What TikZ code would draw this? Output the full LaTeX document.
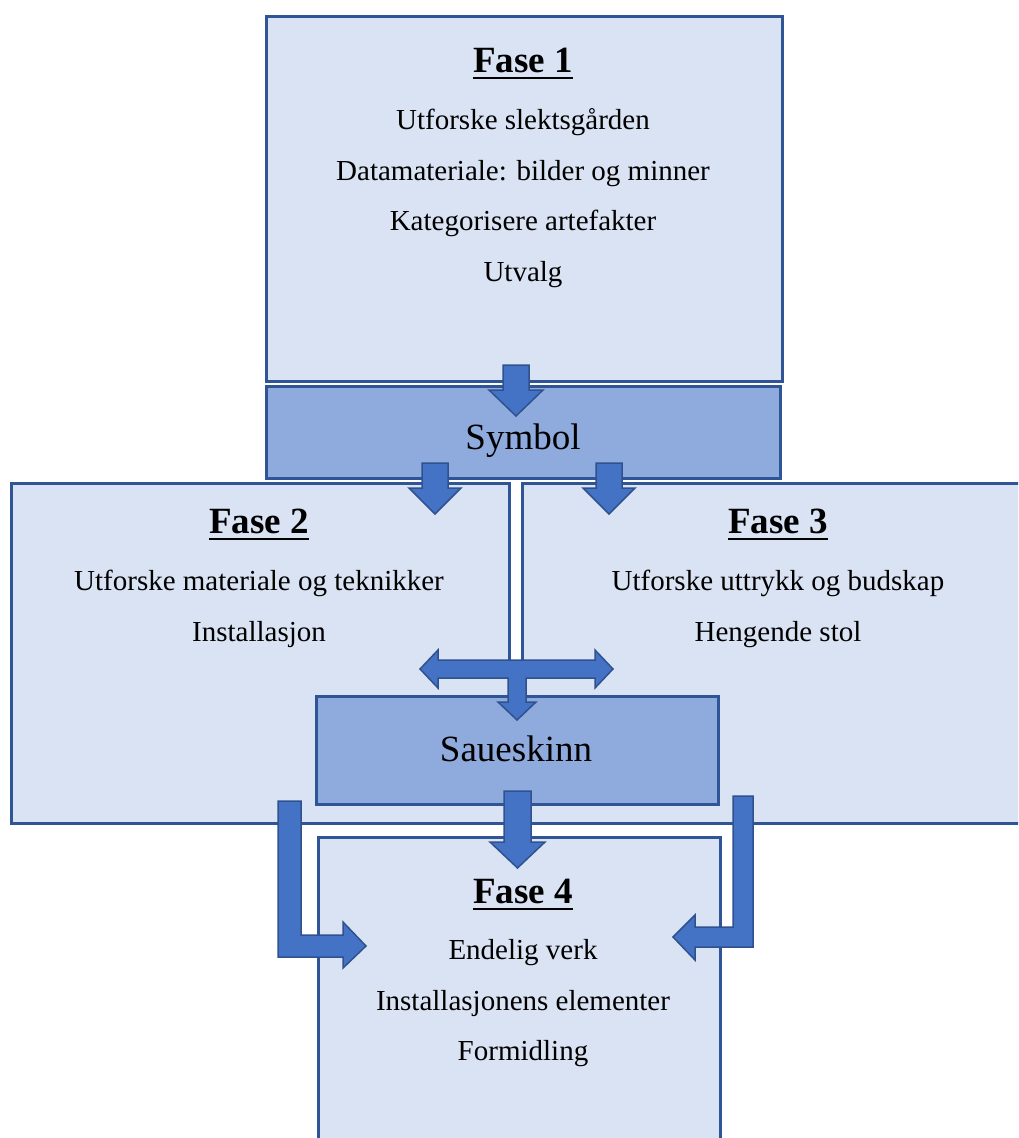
\documentclass[tikz,border=0pt]{standalone}
\usepackage{fontspec}
\setmainfont{Liberation Serif}

\definecolor{boxfill}{HTML}{DAE3F3}
\definecolor{midfill}{HTML}{8FAADC}
\definecolor{boxedge}{HTML}{2F5597}
\definecolor{arrfill}{HTML}{4472C4}
\definecolor{arredge}{HTML}{2F528F}

\tikzset{
  phase/.style={draw=boxedge, fill=boxfill, line width=2.5pt, anchor=north west, inner sep=0pt},
  keybox/.style={draw=boxedge, fill=midfill, line width=2.5pt, anchor=north west, inner sep=0pt},
  blockarrow/.style={draw=arredge, fill=arrfill, line width=1.5pt, line join=miter},
  title/.style={font=\fontsize{37}{40}\selectfont\bfseries, anchor=base, inner sep=0pt},
  item/.style={font=\fontsize{29}{32}\selectfont, anchor=base, inner sep=0pt},
  big/.style={font=\fontsize{37}{40}\selectfont, anchor=base, inner sep=0pt},
  ulbar/.style={line width=2.5pt},
}

% down block arrow: centre x, half shaft, top y, head base y, half head, tip y
\newcommand{\dnblock}[6]{%
  \draw[blockarrow] ({#1-#2},#3) -- ({#1+#2},#3) -- ({#1+#2},#4) -- ({#1+#5},#4)
    -- (#1,#6) -- ({#1-#5},#4) -- ({#1-#2},#4) -- cycle;
}
% underline under a title node
\newcommand{\ulnode}[1]{%
  \draw[ulbar] ([yshift=-6pt]#1.base west) -- ([yshift=-6pt]#1.base east);
}

\begin{document}
\begin{tikzpicture}[x=1pt, y=-1pt]
  \clip (0,0) rectangle (1018,1138);

  % boxes
  \node[phase, minimum width=516pt, minimum height=365pt] (fase1) at (265,15) {};
  \node[keybox, minimum width=514pt, minimum height=92pt] (symbol) at (265,385) {};
  \node[phase, minimum width=498pt, minimum height=340pt] (fase2) at (10,482) {};
  \node[phase, minimum width=514pt, minimum height=340pt] (fase3) at (521,482) {};
  \node[keybox, minimum width=402pt, minimum height=108pt] (saueskinn) at (315,695) {};
  \node[phase, minimum width=402pt, minimum height=320pt] (fase4) at (317,836) {};

  % texts
  \node[title] (f1title) at (523,72) {Fase 1};
  \ulnode{f1title}
  \foreach \txt [count=\i] in {Utforske slektsgården, Datamateriale: bilder og minner,
      Kategorisere artefakter, Utvalg} {
    \node[item] (f1l\i) at (523,{79+50.5*\i}) {\txt};
  }
  \node[big] (symtxt) at (523,449) {Symbol};

  \node[title] (f2title) at (259,533) {Fase 2};
  \ulnode{f2title}
  \node[item] (f2l1) at (259,590) {Utforske materiale og teknikker};
  \node[item] (f2l2) at (259,641) {Installasjon};

  \node[title] (f3title) at (778,533) {Fase 3};
  \ulnode{f3title}
  \node[item] (f3l1) at (778,590) {Utforske uttrykk og budskap};
  \node[item] (f3l2) at (778,641) {Hengende stol};

  \node[big] (sautxt) at (516,761) {Saueskinn};

  \node[title] (f4title) at (523,903) {Fase 4};
  \ulnode{f4title}
  \foreach \txt [count=\i] in {Endelig verk, Installasjonens elementer, Formidling} {
    \node[item] (f4l\i) at (523,{909+50.5*\i}) {\txt};
  }

  % arrows
  \dnblock{516}{13}{365}{390}{27}{416}
  \dnblock{435}{13}{463}{488}{26}{514}
  \dnblock{609}{13}{463}{488}{26}{514}
  \dnblock{517.5}{13.5}{791}{842}{27.5}{868}

  \draw[blockarrow] (420,669) -- (438,650) -- (438,660) -- (595,660) -- (595,650)
    -- (613,669) -- (595,688) -- (595,678) -- (526,678) -- (526,702) -- (536,702)
    -- (517,720) -- (498,702) -- (508,702) -- (508,678) -- (438,678) -- (438,688) -- cycle;

  \draw[blockarrow] (278,801) -- (301,801) -- (301,935) -- (343,935) -- (343,922)
    -- (366,946) -- (343,968) -- (343,957) -- (278,957) -- cycle;
  \draw[blockarrow] (753,796) -- (733,796) -- (733,927) -- (695,927) -- (695,915)
    -- (673,937) -- (695,960) -- (695,947) -- (753,947) -- cycle;
\end{tikzpicture}
\end{document}
